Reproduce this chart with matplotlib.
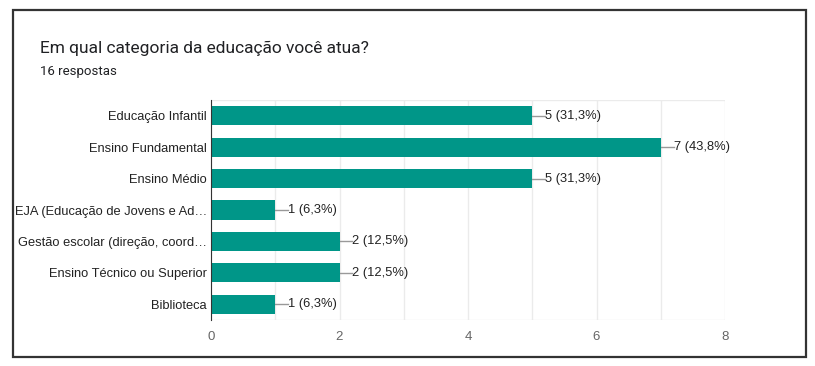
import matplotlib.pyplot as plt
from matplotlib.patches import Rectangle

plt.rcParams['font.family'] = ['Liberation Sans', 'DejaVu Sans']

categorias = ['Educação Infantil', 'Ensino Fundamental', 'Ensino Médio',
              'EJA (Educação de Jovens e Ad…', 'Gestão escolar (direção, coord…',
              'Ensino Técnico ou Superior', 'Biblioteca']
valores = [5, 7, 5, 1, 2, 2, 1]
rotulos = ['5 (31,3%)', '7 (43,8%)', '5 (31,3%)', '1 (6,3%)',
           '2 (12,5%)', '2 (12,5%)', '1 (6,3%)']
xticks = [0, 2, 4, 6, 8]

fig = plt.figure(figsize=(8.15, 3.66), dpi=100)
ax = fig.add_axes([211/815, 1-320/366, 514/815, 220/366])

y = range(len(categorias))
ax.barh(y, valores, height=0.61, color='#009688', zorder=3)
ax.set_ylim(len(categorias)-0.5, -0.5)
ax.set_xlim(0, 8)

# linhas de grade em cada inteiro
for g in range(0, 9):
    ax.axvline(g, color='#ebebeb', lw=1, zorder=1)
ax.axhline(-0.5, color='#ebebeb', lw=1, zorder=1)
ax.axhline(len(categorias)-0.5, color='#ebebeb', lw=1, zorder=1)

# rotulos com linha guia
for i, (v, r) in enumerate(zip(valores, rotulos)):
    ax.plot([v, v+0.2], [i, i], color='#999999', lw=1, zorder=2, clip_on=False)
    ax.text(v+0.2, i, r, va='center', ha='left', fontsize=9.3, color='#222222')

for s in ['top', 'right', 'bottom']:
    ax.spines[s].set_visible(False)
ax.spines['left'].set_color('#333333')
ax.spines['left'].set_zorder(4)

ax.set_yticks(list(y))
ax.set_yticklabels(categorias, fontsize=9.25, color='#222222')
ax.set_xticks(xticks)
ax.set_xticklabels([str(t) for t in xticks], fontsize=9.5, color='#666666')
ax.tick_params(axis='both', length=0)
ax.tick_params(axis='y', pad=3)
ax.tick_params(axis='x', pad=8)

fig.text(40/815, 1-48/366, 'Em qual categoria da educação você atua?',
         fontsize=12.5, color='#202124', va='center', family=['Roboto', 'DejaVu Sans'])
fig.text(40/815, 1-71/366, '16 respostas', fontsize=9.5, color='#202124', va='center',
         family=['Roboto', 'DejaVu Sans'])

fig.patches.append(Rectangle((13/815, 1-357/366), 793/815, 347/366,
                             transform=fig.transFigure, fill=False,
                             edgecolor='#333333', lw=1.6))

fig.savefig('out.png', dpi=100)
